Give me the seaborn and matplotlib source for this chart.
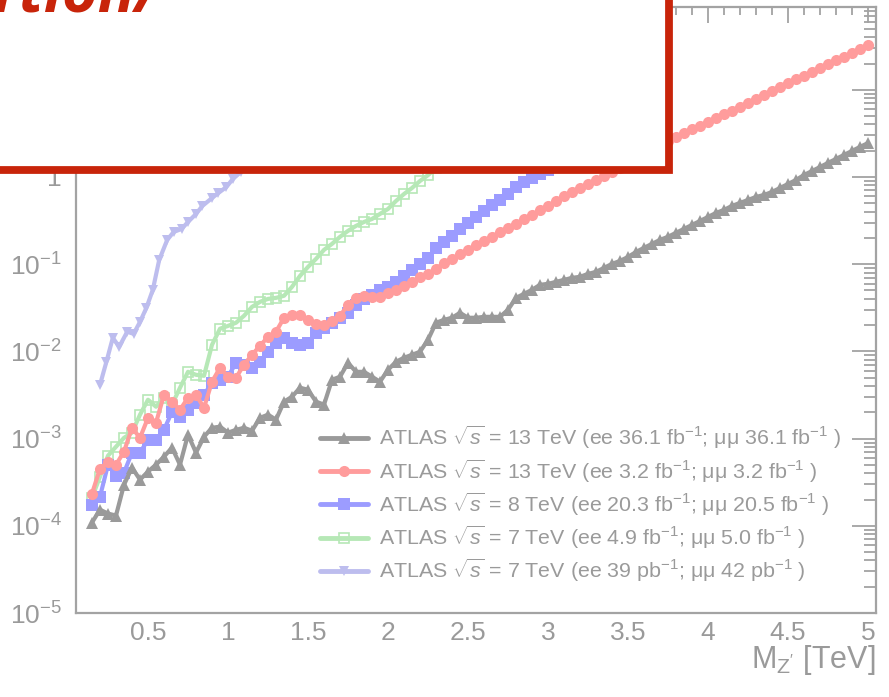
import numpy as np
import pandas as pd
import matplotlib
matplotlib.use("Agg")
import matplotlib.pyplot as plt
import seaborn as sns
from matplotlib.patches import Rectangle
from matplotlib.ticker import MultipleLocator, LogLocator, FuncFormatter, NullFormatter

# ---------------- data ----------------
mass_fine = [0.15, 0.20, 0.25, 0.30, 0.35, 0.40, 0.45, 0.50, 0.55, 0.60,
             0.65, 0.70, 0.75, 0.80, 0.85, 0.90, 0.95, 1.00, 1.05, 1.10,
             1.15, 1.20, 1.25, 1.30, 1.35, 1.40, 1.45, 1.50, 1.55, 1.60,
             1.65, 1.70, 1.75, 1.80, 1.85, 1.90, 1.95, 2.00, 2.05, 2.10,
             2.15, 2.20, 2.25, 2.30, 2.35, 2.40, 2.45, 2.50, 2.55, 2.60,
             2.65, 2.70, 2.75, 2.80, 2.85, 2.90, 2.95, 3.00, 3.05, 3.10,
             3.15, 3.20, 3.25, 3.30, 3.35, 3.40, 3.45, 3.50, 3.55, 3.60,
             3.65, 3.70, 3.75, 3.80, 3.85, 3.90, 3.95, 4.00, 4.05, 4.10,
             4.15, 4.20, 4.25, 4.30, 4.35, 4.40, 4.45, 4.50, 4.55, 4.60,
             4.65, 4.70, 4.75, 4.80, 4.85, 4.90, 4.95, 5.00]

limit_13tev_36fb = [1.09e-4, 1.53e-4, 1.38e-4, 1.31e-4, 2.96e-4, 4.64e-4, 3.38e-4, 4.18e-4, 5.02e-4, 6.21e-4,
                    7.87e-4, 5.02e-4, 1.11e-3, 6.9e-4, 1.05e-3, 1.33e-3, 1.37e-3, 1.17e-3, 1.26e-3, 1.33e-3,
                    1.23e-3, 1.73e-3, 1.88e-3, 1.65e-3, 2.65e-3, 3.02e-3, 3.83e-3, 3.63e-3, 2.65e-3, 2.45e-3,
                    4.73e-3, 5.12e-3, 7.4e-3, 5.83e-3, 5.83e-3, 5.12e-3, 4.49e-3, 6.15e-3, 7.6e-3, 8.45e-3,
                    9.14e-3, 9.9e-3, 1.36e-2, 2.13e-2, 2.30e-2, 2.43e-2, 2.77e-2, 2.43e-2, 2.43e-2, 2.49e-2,
                    2.49e-2, 2.49e-2, 3.0e-2, 4.11e-2, 4.57e-2, 5.08e-2, 5.8e-2, 5.95e-2, 6.27e-2, 6.61e-2,
                    6.97e-2, 7.16e-2, 7.74e-2, 8.16e-2, 9.07e-2, 0.1008, 0.109, 0.121, 0.138, 0.154,
                    0.171, 0.19, 0.206, 0.229, 0.254, 0.282, 0.313, 0.348, 0.387, 0.419,
                    0.466, 0.504, 0.545, 0.590, 0.622, 0.673, 0.748, 0.831, 0.924, 1.054,
                    1.17, 1.30, 1.45, 1.61, 1.79, 1.99, 2.21, 2.45]

limit_13tev_3fb = [2.34e-4, 4.52e-4, 5.43e-4, 5.02e-4, 7.08e-4, 1.33e-3, 1.02e-3, 1.73e-3, 1.52e-3, 3.18e-3,
                   2.65e-3, 2.14e-3, 2.94e-3, 3.18e-3, 2.26e-3, 4.49e-3, 6.49e-3, 5.12e-3, 4.99e-3, 7.03e-3,
                   9.14e-3, 1.16e-2, 1.47e-2, 1.68e-2, 2.43e-2, 2.62e-2, 2.62e-2, 2.30e-2, 2.07e-2, 2.02e-2,
                   2.24e-2, 2.56e-2, 3.42e-2, 4.11e-2, 4.34e-2, 4.22e-2, 4.22e-2, 4.69e-2, 5.08e-2, 5.64e-2,
                   6.27e-2, 7.16e-2, 7.74e-2, 8.83e-2, 0.1035, 0.115, 0.131, 0.146, 0.166, 0.185,
                   0.206, 0.234, 0.261, 0.290, 0.330, 0.367, 0.419, 0.466, 0.531, 0.606,
                   0.673, 0.748, 0.831, 0.924, 1.03, 1.14, 1.27, 1.41, 1.57, 1.74,
                   1.93, 2.27, 2.58, 2.87, 3.19, 3.55, 3.84, 4.27, 4.74, 5.27,
                   5.70, 6.34, 7.04, 7.82, 8.69, 9.66, 10.7, 11.9, 13.3, 14.4,
                   16.0, 17.7, 19.7, 21.9, 23.7, 26.3, 29.3, 32.5]

mass_8tev = mass_fine[:60]
limit_8tev = [1.75e-4, 2.16e-4, 5.02e-4, 3.76e-4, 4.07e-4, 6.9e-4, 6.9e-4, 9.7e-4, 9.7e-4, 1.26e-3,
              2.03e-3, 1.78e-3, 2.14e-3, 2.58e-3, 3.18e-3, 4.37e-3, 4.73e-3, 5.12e-3, 7.4e-3, 7.03e-3,
              6.49e-3, 7.6e-3, 9.9e-3, 1.25e-2, 1.43e-2, 1.25e-2, 1.19e-2, 1.25e-2, 1.63e-2, 1.86e-2,
              2.13e-2, 2.43e-2, 2.77e-2, 3.42e-2, 4.0e-2, 4.45e-2, 5.08e-2, 5.5e-2, 6.27e-2, 7.34e-2,
              8.6e-2, 0.101, 0.118, 0.154, 0.180, 0.211, 0.254, 0.297, 0.348, 0.408,
              0.478, 0.545, 0.638, 0.768, 0.877, 0.974, 1.08, 1.20, 1.40, 1.60]

mass_7tev = mass_fine[:46]
limit_7tev_5fb = [2.10e-4, 3.66e-4, 6.37e-4, 8.07e-4, 1.02e-3, 1.17e-3, 1.88e-3, 2.79e-3, 2.32e-3, 2.94e-3,
                  2.45e-3, 3.83e-3, 5.83e-3, 5.39e-3, 5.25e-3, 1.19e-2, 1.82e-2, 1.96e-2, 2.13e-2, 2.56e-2,
                  3.24e-2, 3.70e-2, 4.0e-2, 4.11e-2, 4.34e-2, 5.5e-2, 7.34e-2, 9.31e-2, 0.115, 0.146,
                  0.171, 0.206, 0.241, 0.275, 0.305, 0.330, 0.377, 0.430, 0.531, 0.638,
                  0.748, 0.900, 1.05, 1.27, 1.52, 1.83]

mass_7tev_pb = [0.20, 0.24, 0.28, 0.32, 0.37, 0.41, 0.45, 0.49, 0.53, 0.57, 0.62, 0.66,
                0.71, 0.75, 0.80, 0.84, 0.90, 0.94, 0.99, 1.03, 1.08, 1.12, 1.16]
limit_7tev_pb = [4.14e-3, 7.6e-3, 1.43e-2, 1.13e-2, 1.68e-2, 1.59e-2, 2.18e-2, 3.16e-2, 5.08e-2, 0.112,
                 0.190, 0.234, 0.254, 0.305, 0.377, 0.466, 0.574, 0.656, 0.768, 0.949, 1.14, 1.37, 1.65]

labels = [
    r"ATLAS $\sqrt{s}$ = 13 TeV (ee 36.1 fb$^{-1}$; μμ 36.1 fb$^{-1}$ )",
    r"ATLAS $\sqrt{s}$ = 13 TeV (ee 3.2 fb$^{-1}$; μμ 3.2 fb$^{-1}$ )",
    r"ATLAS $\sqrt{s}$ = 8 TeV (ee 20.3 fb$^{-1}$; μμ 20.5 fb$^{-1}$ )",
    r"ATLAS $\sqrt{s}$ = 7 TeV (ee 4.9 fb$^{-1}$; μμ 5.0 fb$^{-1}$ )",
    r"ATLAS $\sqrt{s}$ = 7 TeV (ee 39 pb$^{-1}$; μμ 42 pb$^{-1}$ )",
]
colors = ["#9a9a9a", "#ff9c9c", "#9c9cff", "#b6e8b6", "#bdbdee"]
markers = ["^", "o", "s", "s", "v"]

# ---------------- style ----------------
sns.set_style("white")
plt.rcParams["font.family"] = ["Liberation Sans", "DejaVu Sans"]
plt.rcParams["mathtext.fontset"] = "custom"
plt.rcParams["mathtext.rm"] = "Liberation Sans"
plt.rcParams["mathtext.it"] = "Liberation Sans:italic"
plt.rcParams["mathtext.bf"] = "Liberation Sans:bold"

GRAY = "#a3a3a3"
TXT = "#9a9a9a"

W, H = 889, 697
fig = plt.figure(figsize=(W / 100, H / 100), dpi=100)
ax = fig.add_axes([76 / W, 1 - 613 / H, (876 - 76) / W, (613 - 7) / H])

series = [
    (mass_fine, limit_13tev_36fb),
    (mass_fine, limit_13tev_3fb),
    (mass_8tev, limit_8tev),
    (mass_7tev, limit_7tev_5fb),
    (mass_7tev_pb, limit_7tev_pb),
]
msizes = [9.0, 8.0, 8.5, 7.5, 7.5]

# draw last legend entry first so that the 13 TeV curves are on top
for i in [4, 3, 2, 1, 0]:
    xs, ys = series[i]
    df = pd.DataFrame({"mass": xs, "limit": ys})
    mfc = "none" if i == 3 else colors[i]
    sns.lineplot(data=df, x="mass", y="limit", ax=ax, color=colors[i],
                 marker=markers[i], markersize=msizes[i], markerfacecolor=mfc,
                 markeredgecolor=colors[i], markeredgewidth=1.2 if i == 3 else 0,
                 linewidth=3.0, estimator=None, sort=False, label=labels[i],
                 zorder=3 + (4 - i))

ax.set_yscale("log")
ax.set_xlim(0.05, 5.05)
ax.set_ylim(1e-5, 89)

ax.xaxis.set_major_locator(MultipleLocator(0.5))
ax.xaxis.set_minor_locator(MultipleLocator(0.1))
ax.xaxis.set_major_formatter(FuncFormatter(lambda v, p: f"{v:g}"))
ax.yaxis.set_major_locator(LogLocator(base=10, numticks=20))
ax.yaxis.set_minor_locator(LogLocator(base=10, subs=np.arange(2, 10), numticks=20))
ax.yaxis.set_minor_formatter(NullFormatter())


def yfmt(v, p):
    e = int(round(np.log10(v)))
    if e == 0:
        return "1"
    if e == 1:
        return "10"
    return r"$\mathregular{10^{%d}}$" % e


ax.yaxis.set_major_formatter(FuncFormatter(yfmt))

for s in ax.spines.values():
    s.set_color(GRAY)
    s.set_linewidth(1.6)

ax.tick_params(axis="both", which="both", direction="in", colors=GRAY,
               labelcolor=TXT, top=True, right=True, width=1.3)
ax.tick_params(axis="x", which="major", length=11.5, labelsize=19, pad=6)
ax.tick_params(axis="x", which="minor", length=5.8)
ax.tick_params(axis="y", which="major", length=17.5, labelsize=19, pad=10)
ax.tick_params(axis="y", which="minor", length=8.6)
ax.xaxis.label.set_visible(False)
ax.yaxis.label.set_visible(False)

fig.text(875 / W, 1 - 660 / H, r"M$_{\mathrm{Z'}}$ [TeV]", ha="right", va="center",
         fontsize=22, color=TXT)

# legend in reference order
h, l = ax.get_legend_handles_labels()
order = [labels.index(x) for x in l]
pairs = sorted(zip(order, h, l))
leg = ax.legend([p[1] for p in pairs], [p[2] for p in pairs],
                loc="upper left", bbox_to_anchor=(320 / W, 1 - 424 / H),
                bbox_transform=fig.transFigure, frameon=False, fontsize=15.4,
                handlelength=2.25, handletextpad=0.5, labelspacing=0.28,
                borderpad=0, borderaxespad=0)
for t in leg.get_texts():
    t.set_color(TXT)
for ln in leg.get_lines():
    ln.set_linewidth(3.5)

# red overlay box with partially cropped title text
box = Rectangle((-0.1, 1 - 169.5 / H), 669 / W + 0.1, 0.5, transform=fig.transFigure,
                facecolor="white", edgecolor="#c8240a", linewidth=5.6, zorder=10,
                clip_on=False)
fig.add_artist(box)
fig.text(-6 / W, 1 - 12 / H, "rtion/", transform=fig.transFigure, fontsize=44,
         fontweight="bold", style="italic", color="#c8240a", ha="left",
         va="baseline", zorder=11, family=["Open Sans", "DejaVu Sans"])

fig.savefig("out.png", dpi=100, facecolor="white")
